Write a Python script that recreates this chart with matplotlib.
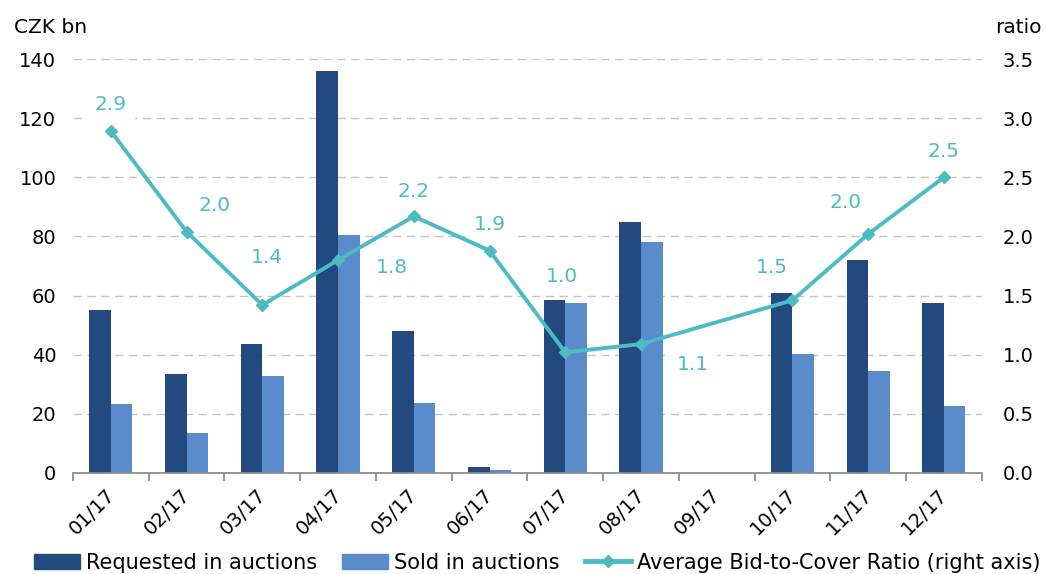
import numpy as np
import matplotlib.pyplot as plt
import matplotlib.transforms as mtransforms
from matplotlib.lines import Line2D
from matplotlib.patches import Patch

months = ["01/17", "02/17", "03/17", "04/17", "05/17", "06/17",
          "07/17", "08/17", "09/17", "10/17", "11/17", "12/17"]
requested = [55.2, 33.4, 43.5, 136.0, 48.0, 2.0, 58.5, 85.0, 0.0, 60.8, 72.0, 57.6]
sold = [23.2, 13.4, 32.9, 80.5, 23.6, 1.0, 57.4, 78.1, 0.0, 40.2, 34.6, 22.8]
ratio = [2.89, 2.04, 1.42, 1.80, 2.17, 1.88, 1.02, 1.09, np.nan, 1.46, 2.02, 2.50]

# label offsets in pixels (dx, dy) relative to each point
label_offsets = [(0, 27), (28, 26), (5, 48), (54, -7), (0, 25), (0, 26),
                 (-3, 76), (52, -20), (0, 0), (-21, 33), (-23, 32), (0, 26)]

c_req = "#224a7e"
c_sold = "#5a8bca"
c_line = "#4dbbc4"
grid_c = "#c4c4c4"
fs = 14

fig = plt.figure(figsize=(10.47, 5.74), dpi=100)
ax = fig.add_axes([0.0697, 0.176, 0.868, 0.7212])
ax2 = ax.twinx()

x = np.arange(len(months))
w = 0.285
ax.bar(x - w / 2, requested, w, color=c_req, linewidth=0, zorder=2)
ax.bar(x + w / 2, sold, w, color=c_sold, linewidth=0, zorder=2)

ax.set_xlim(-0.5, len(months) - 0.5)
ax.set_ylim(0, 140)
ax.set_yticks(range(0, 141, 20))
ax2.set_ylim(0, 3.5)
ax2.set_yticks(np.arange(0, 3.51, 0.5))
ax2.set_yticklabels([f"{v:.1f}" for v in np.arange(0, 3.51, 0.5)])

ax.yaxis.grid(True, color=grid_c, linestyle=(0, (6, 4)), linewidth=1.0, zorder=0)
ax.set_axisbelow(True)

# ratio line, 09/17 has no value so the line joins 08/17 and 10/17
r = np.array(ratio)
ok = ~np.isnan(r)
ax2.plot(x[ok], r[ok], color=c_line, linewidth=2.8, marker="D", markersize=6.5,
         zorder=3)
for i, v in enumerate(ratio):
    if np.isnan(v):
        continue
    dx, dy = label_offsets[i]
    ax2.annotate(f"{v:.1f}", (x[i], v), xytext=(dx, dy), textcoords="offset pixels",
                 ha="center", va="center", fontsize=14.5, color=c_line, zorder=2,
                 bbox=dict(boxstyle="square,pad=0.4", fc="white", ec="none"))

for a in (ax, ax2):
    for s in ("top", "left", "right", "bottom"):
        a.spines[s].set_visible(False)
ax.spines["bottom"].set_visible(True)
ax.spines["bottom"].set_color("#8c8c8c")
ax.spines["bottom"].set_linewidth(1.3)

ax.set_xticks(np.arange(-0.5, len(months)), minor=False)
ax.set_xticklabels([])
ax.tick_params(axis="x", which="major", length=6, width=1.3, color="#8c8c8c")
ax.set_xticks(x, minor=True)
ax.set_xticklabels(months, minor=True, rotation=45, ha="right",
                   rotation_mode="anchor", fontsize=fs)
ax.tick_params(axis="x", which="minor", length=0, pad=9)
shift = mtransforms.ScaledTranslation(-6 / 100, 0, fig.dpi_scale_trans)
for lab in ax.get_xticklabels(minor=True):
    lab.set_transform(lab.get_transform() + shift)

ax.tick_params(axis="y", length=0, labelsize=fs, pad=12)
ax2.tick_params(axis="y", length=0, labelsize=fs, pad=15)

fig.text(0.013, 0.952, "CZK bn", fontsize=14.5, ha="left", va="center")
fig.text(0.995, 0.952, "ratio", fontsize=14.5, ha="right", va="center")

handles = [Patch(color=c_req), Patch(color=c_sold),
           Line2D([], [], color=c_line, linewidth=3.5, marker="D", markersize=6)]
fig.legend(handles, ["Requested in auctions", "Sold in auctions",
                     "Average Bid-to-Cover Ratio (right axis)"],
           loc="center", bbox_to_anchor=(0.513, 0.02), ncol=3, frameon=False,
           fontsize=15, handlelength=2.2, handleheight=0.75, handletextpad=0.3,
           columnspacing=1.2, borderaxespad=0)

fig.savefig("out.png", dpi=100)
